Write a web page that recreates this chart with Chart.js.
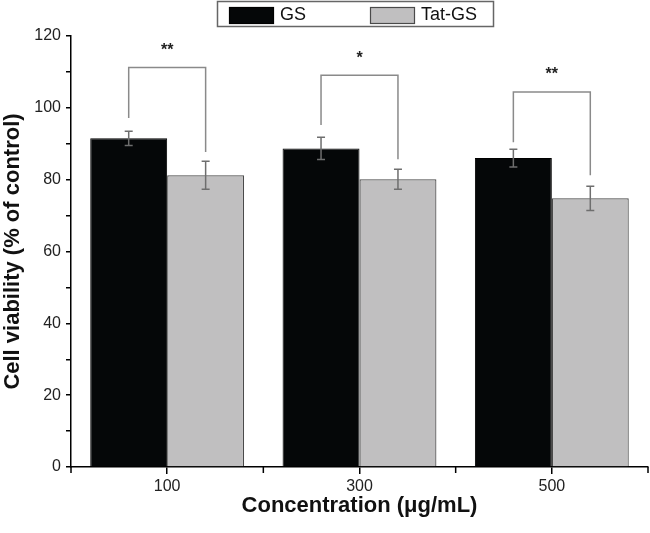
<!DOCTYPE html>
<html>
<head>
<meta charset="utf-8">
<script src="https://cdn.jsdelivr.net/npm/chart.js@4"></script>
<style>
  html, body { margin: 0; padding: 0; background: #fff; }
  #wrap { width: 650px; height: 533px; }
</style>
</head>
<body>
<div id="wrap"><canvas id="chart" width="650" height="533"></canvas></div>
<script>
// Dados
const concentrations = ['100', '300', '500'];
const gsValues = [91.5, 88.7, 86.0];
const gsErrors = [2.0, 3.1, 2.5];
const tatValues = [81.2, 80.1, 74.8];
const tatErrors = [3.9, 2.8, 3.4];

// Colchetes de significância (topo, ponta esquerda, ponta direita) e asteriscos
const bracketTop = [111.2, 109.1, 104.4];
const bracketLeftEnd = [97.2, 95.2, 90.4];
const bracketRightEnd = [87.7, 85.7, 81.2];
const stars = ['**', '*', '**'];

const seriesNames = ['GS', 'Tat-GS'];
const FONT = "'Liberation Sans', Arial, sans-serif";

// Barras de erro, colchetes e marcas menores do eixo x
const extrasPlugin = {
    id: 'extras',
    afterDatasetsDraw(chart) {
        const ctx = chart.ctx;
        const y = chart.scales.y;
        const errs = [gsErrors, tatErrors];
        const vals = [gsValues, tatValues];

        ctx.save();
        ctx.strokeStyle = '#6e6e6e';
        ctx.lineWidth = 1.5;
        [0, 1].forEach(d => {
            chart.getDatasetMeta(d).data.forEach((bar, i) => {
                const top = y.getPixelForValue(vals[d][i] + errs[d][i]);
                const bot = y.getPixelForValue(vals[d][i] - errs[d][i]);
                ctx.beginPath();
                ctx.moveTo(bar.x, top); ctx.lineTo(bar.x, bot);
                ctx.moveTo(bar.x - 4, top); ctx.lineTo(bar.x + 4, top);
                ctx.moveTo(bar.x - 4, bot); ctx.lineTo(bar.x + 4, bot);
                ctx.stroke();
            });
        });

        // colchetes
        ctx.strokeStyle = '#8a8a8a';
        ctx.lineWidth = 1.5;
        ctx.fillStyle = '#222';
        ctx.font = 'bold 16px ' + FONT;
        ctx.textAlign = 'center';
        ctx.textBaseline = 'bottom';
        const gsBars = chart.getDatasetMeta(0).data;
        const tatBars = chart.getDatasetMeta(1).data;
        concentrations.forEach((c, i) => {
            const xl = gsBars[i].x, xr = tatBars[i].x;
            const yt = y.getPixelForValue(bracketTop[i]);
            ctx.beginPath();
            ctx.moveTo(xl, y.getPixelForValue(bracketLeftEnd[i]));
            ctx.lineTo(xl, yt);
            ctx.lineTo(xr, yt);
            ctx.lineTo(xr, y.getPixelForValue(bracketRightEnd[i]));
            ctx.stroke();
            ctx.fillText(stars[i], (xl + xr) / 2, yt - 9);
        });
        ctx.restore();
    },
    afterDraw(chart) {
        const ctx = chart.ctx;
        const x = chart.scales.x;
        const area = chart.chartArea;
        // marcas entre categorias
        const pos = [area.left];
        for (let i = 0; i < concentrations.length - 1; i++) {
            pos.push((x.getPixelForTick(i) + x.getPixelForTick(i + 1)) / 2);
        }
        pos.push(area.right);
        ctx.save();
        ctx.strokeStyle = '#000';
        ctx.lineWidth = 1.5;
        ctx.beginPath();
        pos.forEach(p => { ctx.moveTo(p, area.bottom); ctx.lineTo(p, area.bottom + 6); });
        ctx.stroke();

        // legenda com moldura
        ctx.strokeStyle = '#666';
        ctx.lineWidth = 1.5;
        ctx.strokeRect(217.5, 1.5, 276, 25);
        const ds = chart.data.datasets;
        const boxes = [229, 370];
        ctx.font = '18px ' + FONT;
        ctx.textBaseline = 'middle';
        ctx.textAlign = 'left';
        ds.forEach((d, i) => {
            ctx.fillStyle = d.backgroundColor;
            ctx.fillRect(boxes[i], 7, 45, 17);
            ctx.strokeStyle = d.borderColor;
            ctx.lineWidth = 1.2;
            ctx.strokeRect(boxes[i] + 0.5, 7.5, 44, 16);
            ctx.fillStyle = '#111';
            ctx.fillText(d.label, boxes[i] + 51, 15.5);
        });
        ctx.restore();
    }
};

new Chart(document.getElementById('chart'), {
    type: 'bar',
    data: {
        labels: concentrations,
        datasets: [
            {
                label: seriesNames[0],
                data: gsValues,
                backgroundColor: '#050708',
                borderColor: '#000000',
                borderWidth: 1
            },
            {
                label: seriesNames[1],
                data: tatValues,
                backgroundColor: '#c0bfc0',
                borderColor: '#4a4a4a',
                borderWidth: 1.2
            }
        ]
    },
    options: {
        responsive: false,
        animation: false,
        layout: { padding: { top: 36, right: 2, left: 0, bottom: 0 } },
        datasets: { bar: { categoryPercentage: 0.8, barPercentage: 1.0 } },
        plugins: {
            legend: { display: false },
            tooltip: { enabled: false }
        },
        scales: {
            x: {
                offset: true,
                grid: { offset: false, drawOnChartArea: false, color: '#000', lineWidth: 1.5, tickLength: 7 },
                border: { color: '#000', width: 1.5 },
                ticks: { color: '#222', font: { family: FONT, size: 16 }, padding: 3 },
                title: {
                    display: true,
                    text: 'Concentration (μg/mL)',
                    color: '#111',
                    font: { family: FONT, size: 22, weight: 'bold' },
                    padding: { top: 0, bottom: 14 }
                },
                afterFit(scale) { scale.height = 66; }
            },
            y: {
                min: 0,
                max: 120,
                grid: { drawOnChartArea: false, color: '#000', lineWidth: 1.5, tickLength: 5 },
                border: { color: '#000', width: 1.5 },
                ticks: {
                    stepSize: 10,
                    color: '#222',
                    font: { family: FONT, size: 16 },
                    padding: 5,
                    callback: v => (v % 20 === 0 ? v : '')
                },
                title: {
                    display: true,
                    text: 'Cell viability (% of control)',
                    color: '#111',
                    font: { family: FONT, size: 22, weight: 'bold' },
                    padding: { top: 0, bottom: 0 }
                },
                afterFit(scale) { scale.width = 71; }
            }
        }
    },
    plugins: [extrasPlugin]
});
</script>
</body>
</html>
